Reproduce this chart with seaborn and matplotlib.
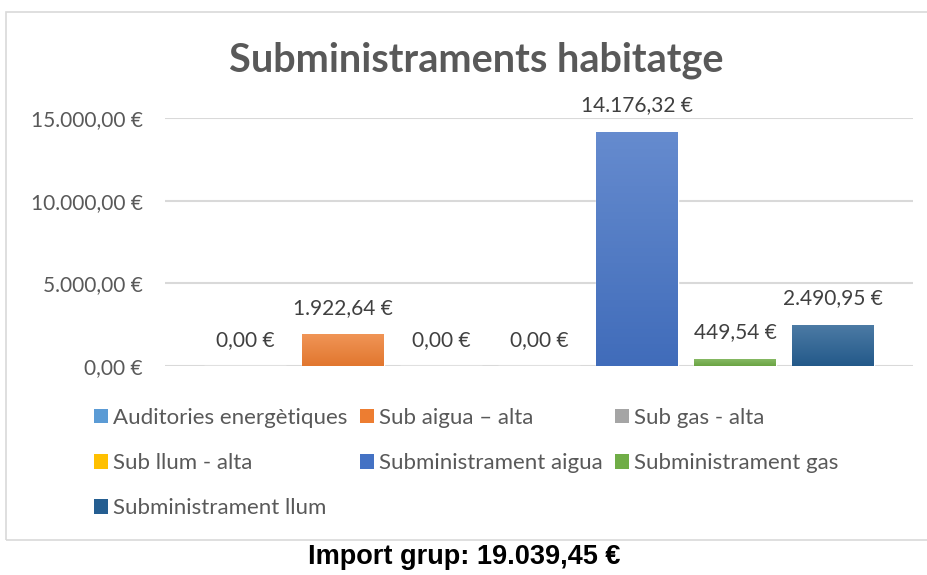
import numpy as np
import pandas as pd
import seaborn as sns
import matplotlib
matplotlib.use('Agg')
import matplotlib.pyplot as plt
from matplotlib.patches import Patch, Rectangle
from matplotlib.colors import to_rgb

series = ['Auditories energètiques', 'Sub aigua – alta', 'Sub gas - alta', 'Sub llum - alta',
          'Subministrament aigua', 'Subministrament gas', 'Subministrament llum']
imports = [0.00, 1922.64, 0.00, 0.00, 14176.32, 449.54, 2490.95]
colors = ['#5B9BD5', '#ED7D31', '#A5A5A5', '#FFC000', '#4472C4', '#70AD47', '#255E91']
yticks = [0, 5000, 10000, 15000]
total = 19039.45


def eur(v):
    s = f"{v:,.2f}"
    s = s.replace(',', 'X').replace('.', ',').replace('X', '.')
    return s + ' €'


df = pd.DataFrame({'serie': series, 'import': imports})

sns.set_style('white')
plt.rcParams['font.family'] = ['Lato', 'DejaVu Sans']

fig = plt.figure(figsize=(9.28, 5.75), dpi=100)
ax = fig.add_axes([165 / 928, 1 - 366 / 575, (913 - 165) / 928, (366 - 118) / 575])

sns.barplot(data=df, x='serie', y='import', hue='serie', palette=colors,
            dodge=False, legend=False, width=0.83, ax=ax, saturation=1)

# soft vertical gradient on each bar
for patch, c in zip(ax.patches, colors):
    x0, y0 = patch.get_x(), patch.get_y()
    w, h = patch.get_width(), patch.get_height()
    if h <= 0:
        continue
    base = np.array(to_rgb(c))
    top = base + (1 - base) * 0.18
    bot = base * 0.95
    t = np.linspace(0, 1, 64)[:, None]
    grad = (top[None, :] * (1 - t) + bot[None, :] * t)[:, None, :]
    im = ax.imshow(grad, extent=[x0, x0 + w, y0, y0 + h], aspect='auto',
                   origin='upper', zorder=3)
    im.set_clip_path(patch)
    patch.set_zorder(2)

ax.set_xlim(-0.816, 6.816)
ax.set_ylim(0, 15000)
ax.set_yticks(yticks)
ax.set_yticklabels([eur(v) for v in yticks], fontsize=15, color='#595959')
ax.set_xticks([])
ax.set_xlabel('')
ax.set_ylabel('')
ax.tick_params(axis='y', length=0, pad=16)
ax.grid(axis='y', color='#D9D9D9', linewidth=1.5)
ax.set_axisbelow(True)
for s in ax.spines.values():
    s.set_visible(False)

for i, v in enumerate(imports):
    ax.annotate(eur(v), (i, v), xytext=(0, 19), textcoords='offset points',
                ha='center', va='center', fontsize=15, color='#404040',
                annotation_clip=False, zorder=5)

fig.text(476 / 928, 1 - 60 / 575, 'Subministraments habitatge', ha='center', va='center',
         fontsize=28.5, fontweight='bold', color='#595959')

# legend filled row by row like the original
handles = [Patch(facecolor=c, edgecolor='none') for c in colors]
order = [0, 3, 6, 1, 4, 2, 5]
fig.legend([handles[i] for i in order], [series[i] for i in order], ncol=3,
           loc='upper left', bbox_to_anchor=(94 / 928, 1 - 408 / 575),
           frameon=False, fontsize=16, labelcolor='#595959',
           handlelength=0.63, handleheight=0.63, handletextpad=0.23,
           columnspacing=0.55, labelspacing=1.13, borderaxespad=0, borderpad=0)

fig.patches.append(Rectangle((6 / 928, 1 - 540 / 575), 1.0, (540 - 12) / 575,
                             transform=fig.transFigure, fill=False,
                             edgecolor='#D9D9D9', linewidth=1.2))

fig.text(464 / 928, 1 - 557 / 575, 'Import grup: ' + eur(total), ha='center', va='center',
         fontsize=19.5, fontweight='bold', color='black',
         family=['Liberation Sans Narrow', 'Liberation Sans', 'DejaVu Sans'])

fig.savefig('out.png', dpi=100)
